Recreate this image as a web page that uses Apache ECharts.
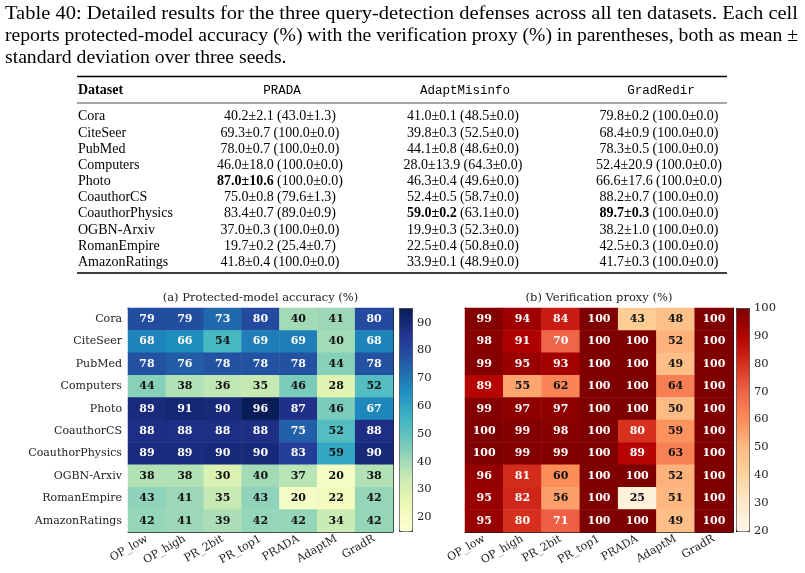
<!DOCTYPE html>
<html lang="en">
<head>
<meta charset="UTF-8">
<title>query-detection defenses</title>
<style>
  html, body { margin: 0; padding: 0; background: #fff; }
</style>
</head>
<body>
<div id="main" style="width:805px;height:573px;"></div>
<script src="https://cdn.jsdelivr.net/npm/echarts@6/dist/echarts.min.js"></script>
<script>
// ---- data ----
var datasets = ['Cora', 'CiteSeer', 'PubMed', 'Computers', 'Photo', 'CoauthorCS',
  'CoauthorPhysics', 'OGBN-Arxiv', 'RomanEmpire', 'AmazonRatings'];
var methods = ['OP_low', 'OP_high', 'PR_2bit', 'PR_top1', 'PRADA', 'AdaptM', 'GradR'];

// heatmap (a) protected-model accuracy, rows = datasets
var accuracy = [
  [79, 79, 73, 80, 40, 41, 80],
  [68, 66, 54, 69, 69, 40, 68],
  [78, 76, 78, 78, 78, 44, 78],
  [44, 38, 36, 35, 46, 28, 52],
  [89, 91, 90, 96, 87, 46, 67],
  [88, 88, 88, 88, 75, 52, 88],
  [89, 89, 90, 90, 83, 59, 90],
  [38, 38, 30, 40, 37, 20, 38],
  [43, 41, 35, 43, 20, 22, 42],
  [42, 41, 39, 42, 42, 34, 42]
];
// heatmap (b) verification proxy
var proxy = [
  [99, 94, 84, 100, 43, 48, 100],
  [98, 91, 70, 100, 100, 52, 100],
  [99, 95, 93, 100, 100, 49, 100],
  [89, 55, 62, 100, 100, 64, 100],
  [99, 97, 97, 100, 100, 50, 100],
  [100, 99, 98, 100, 80, 59, 100],
  [100, 99, 99, 100, 89, 63, 100],
  [96, 81, 60, 100, 100, 52, 100],
  [95, 82, 56, 100, 25, 51, 100],
  [95, 80, 71, 100, 100, 49, 100]
];
var accTicks = [20, 30, 40, 50, 60, 70, 80, 90];
var proxyTicks = [20, 30, 40, 50, 60, 70, 80, 90, 100];

// table: mean / std over three seeds
var defenses = ['PRADA', 'AdaptMisinfo', 'GradRedir'];
var pradaAcc = [40.2, 69.3, 78.0, 46.0, 87.0, 75.0, 83.4, 37.0, 19.7, 41.8];
var pradaAccSd = [2.1, 0.7, 0.7, 18.0, 10.6, 0.8, 0.7, 0.3, 0.2, 0.4];
var pradaVer = [43.0, 100.0, 100.0, 100.0, 100.0, 79.6, 89.0, 100.0, 25.4, 100.0];
var pradaVerSd = [1.3, 0.0, 0.0, 0.0, 0.0, 1.3, 0.9, 0.0, 0.7, 0.0];
var adaptAcc = [41.0, 39.8, 44.1, 28.0, 46.3, 52.4, 59.0, 19.9, 22.5, 33.9];
var adaptAccSd = [0.1, 0.3, 0.8, 13.9, 0.4, 0.5, 0.2, 0.3, 0.4, 0.1];
var adaptVer = [48.5, 52.5, 48.6, 64.3, 49.6, 58.7, 63.1, 52.3, 50.8, 48.9];
var adaptVerSd = [0.0, 0.0, 0.0, 0.0, 0.0, 0.0, 0.0, 0.0, 0.0, 0.0];
var gradAcc = [79.8, 68.4, 78.3, 52.4, 66.6, 88.2, 89.7, 38.2, 42.5, 41.7];
var gradAccSd = [0.2, 0.9, 0.5, 20.9, 17.6, 0.7, 0.3, 1.0, 0.3, 0.3];
var gradVer = [100.0, 100.0, 100.0, 100.0, 100.0, 100.0, 100.0, 100.0, 100.0, 100.0];
var gradVerSd = [0.0, 0.0, 0.0, 0.0, 0.0, 0.0, 0.0, 0.0, 0.0, 0.0];

var caption = [
  'Table 40: Detailed results for the three query-detection defenses across all ten datasets. Each cell',
  'reports protected-model accuracy (%) with the verification proxy (%) in parentheses, both as mean \u00b1',
  'standard deviation over three seeds.'
];

var YlGnBu = ['#ffffd9', '#edf8b1', '#c7e9b4', '#7fcdbb', '#41b6c4', '#1d91c0', '#225ea8', '#253494', '#081d58'];
var OrRd = ['#fff7ec', '#fee8c8', '#fdd49e', '#fdbb84', '#fc8d59', '#ef6548', '#d7301f', '#b30000', '#7f0000'];

var SERIF = 'DejaVu Serif';
var TSERIF = 'Liberation Serif';

// ---- build ----
function cells(mat) {
  var out = [];
  mat.forEach(function (row, i) {
    row.forEach(function (v, j) {
      out.push({ value: [j, i, v], label: { color: v > 65 ? '#fff' : '#111' } });
    });
  });
  return out;
}

var graphic = [];
// caption: first two lines are justified to the full text width
var capFont = '19.7px "' + TSERIF + '"';
var ctx = document.createElement('canvas').getContext('2d');
ctx.font = capFont;
caption.forEach(function (t, i) {
  var sx = 1;
  if (i < caption.length - 1) sx = 793 / ctx.measureText(t).width;
  graphic.push({ type: 'text', x: 5, y: 13.5 + i * 22, scaleX: sx,
    style: { text: t, font: capFont, fill: '#000', verticalAlign: 'middle' } });
});

// rules
function rule(y, w) {
  graphic.push({ type: 'line', shape: { x1: 77, y1: y, x2: 727, y2: y }, style: { stroke: '#000', lineWidth: w } });
}
rule(76.5, 1.3);
rule(103, 0.7);
rule(273, 1.3);

var colX = [280, 463, 659];
var headY = 90.5;
graphic.push({ type: 'text', x: 78, y: headY,
  style: { text: 'Dataset', font: 'bold 14px "' + TSERIF + '"', fill: '#000', verticalAlign: 'middle' } });
defenses.forEach(function (d, k) {
  graphic.push({ type: 'text', x: colX[k] + 2, y: headY,
    style: { text: d, font: '12.5px "Liberation Mono"', fill: '#000', align: 'center', verticalAlign: 'middle' } });
});

var tableCols = [
  [pradaAcc, pradaAccSd, pradaVer, pradaVerSd],
  [adaptAcc, adaptAccSd, adaptVer, adaptVerSd],
  [gradAcc, gradAccSd, gradVer, gradVerSd]
];
datasets.forEach(function (name, i) {
  var y = 116.8 + i * 16.15;
  graphic.push({ type: 'text', x: 78, y: y,
    style: { text: name, font: '14px "' + TSERIF + '"', fill: '#000', verticalAlign: 'middle' } });
  tableCols.forEach(function (c, k) {
    var best = Math.max.apply(null, c[0]);
    var a = c[0][i].toFixed(1) + '\u00b1' + c[1][i].toFixed(1);
    var v = '(' + c[2][i].toFixed(1) + '\u00b1' + c[3][i].toFixed(1) + ')';
    var tag = c[0][i] === best ? 'b' : 'n';
    graphic.push({ type: 'text', x: colX[k], y: y,
      style: {
        text: '{' + tag + '|' + a + '} {n|' + v + '}',
        align: 'center', verticalAlign: 'middle',
        rich: {
          n: { fontFamily: TSERIF, fontSize: 14, fill: '#000', color: '#000' },
          b: { fontFamily: TSERIF, fontSize: 14, fontWeight: 'bold', fill: '#000', color: '#000' }
        }
      } });
  });
});

// subplot titles
graphic.push({ type: 'text', x: 260.5, y: 298.5,
  style: { text: '(a) Protected-model accuracy (%)', font: '11.5px "' + SERIF + '"', fill: '#222', align: 'center', verticalAlign: 'middle' } });
graphic.push({ type: 'text', x: 599, y: 298.5,
  style: { text: '(b) Verification proxy (%)', font: '11.5px "' + SERIF + '"', fill: '#222', align: 'center', verticalAlign: 'middle' } });

var labelStyle = { fontFamily: SERIF, fontSize: 11, color: '#222' };

function catX(gi) {
  return {
    type: 'category', gridIndex: gi, data: methods, position: 'bottom',
    axisLine: { lineStyle: { color: '#222', width: 1 } },
    axisTick: { alignWithLabel: true, length: 3.5, lineStyle: { color: '#222' } },
    axisLabel: Object.assign({ rotate: 30, margin: 6, interval: 0 }, labelStyle),
    splitLine: { show: false }
  };
}
function frameX(gi) {
  return { type: 'category', gridIndex: gi, data: methods, position: 'top',
    axisLine: { onZero: false, lineStyle: { color: '#222', width: 1 } },
    axisTick: { show: false }, axisLabel: { show: false } };
}
function catY(gi, showLabel) {
  return {
    type: 'category', gridIndex: gi, data: datasets, inverse: true, position: 'left',
    axisLine: { lineStyle: { color: '#222', width: 1 } },
    axisTick: { alignWithLabel: true, length: 3.5, lineStyle: { color: '#222' } },
    axisLabel: Object.assign({ show: showLabel, margin: 6, interval: 0 }, labelStyle),
    splitLine: { show: false }
  };
}
function frameY(gi) {
  return { type: 'category', gridIndex: gi, data: datasets, inverse: true, position: 'right',
    axisLine: { onZero: false, lineStyle: { color: '#222', width: 1 } },
    axisTick: { show: false }, axisLabel: { show: false } };
}
function barAxis(gi, min, max, ticks) {
  return {
    type: 'value', gridIndex: gi, min: min, max: max, position: 'right',
    axisLine: { show: false }, splitLine: { show: false },
    axisTick: { show: true, length: 3.5, customValues: ticks, lineStyle: { color: '#222' } },
    axisLabel: Object.assign({ margin: 5, customValues: ticks }, labelStyle, { fontSize: 11.5 })
  };
}

var chart = echarts.init(document.getElementById('main'), null, { renderer: 'canvas' });
chart.setOption({
  animation: false,
  backgroundColor: '#fff',
  graphic: graphic,
  grid: [
    { left: 128, top: 308, width: 265, height: 224 },
    { left: 465, top: 308, width: 268, height: 224 },
    { left: 399, top: 308, width: 13, height: 223 },
    { left: 736, top: 308, width: 13, height: 223 }
  ],
  xAxis: [
    catX(0), catX(1), frameX(0), frameX(1),
    { type: 'value', gridIndex: 2, show: false },
    { type: 'value', gridIndex: 3, show: false }
  ],
  yAxis: [
    catY(0, true), catY(1, false), frameY(0), frameY(1),
    barAxis(2, 15, 95.3, accTicks),
    barAxis(3, 20, 100, proxyTicks)
  ],
  visualMap: [
    { type: 'continuous', seriesIndex: 0, min: 15, max: 95.3, calculable: false, orient: 'vertical',
      left: 399, top: 308, itemWidth: 13, itemHeight: 223, padding: 0, text: null,
      borderColor: '#333', borderWidth: 1, inRange: { color: YlGnBu } },
    { type: 'continuous', seriesIndex: 1, min: 20, max: 100, calculable: false, orient: 'vertical',
      left: 736, top: 308, itemWidth: 13, itemHeight: 223, padding: 0, text: null,
      borderColor: '#333', borderWidth: 1, inRange: { color: OrRd } }
  ],
  series: [
    { type: 'heatmap', xAxisIndex: 0, yAxisIndex: 0, data: cells(accuracy),
      label: { show: true, fontFamily: SERIF, fontWeight: 'bold', fontSize: 11,
        formatter: function (p) { return p.value[2]; } },
      emphasis: { disabled: true } },
    { type: 'heatmap', xAxisIndex: 1, yAxisIndex: 1, data: cells(proxy),
      label: { show: true, fontFamily: SERIF, fontWeight: 'bold', fontSize: 11,
        formatter: function (p) { return p.value[2]; } },
      emphasis: { disabled: true } }
  ]
});
</script>
</body>
</html>
